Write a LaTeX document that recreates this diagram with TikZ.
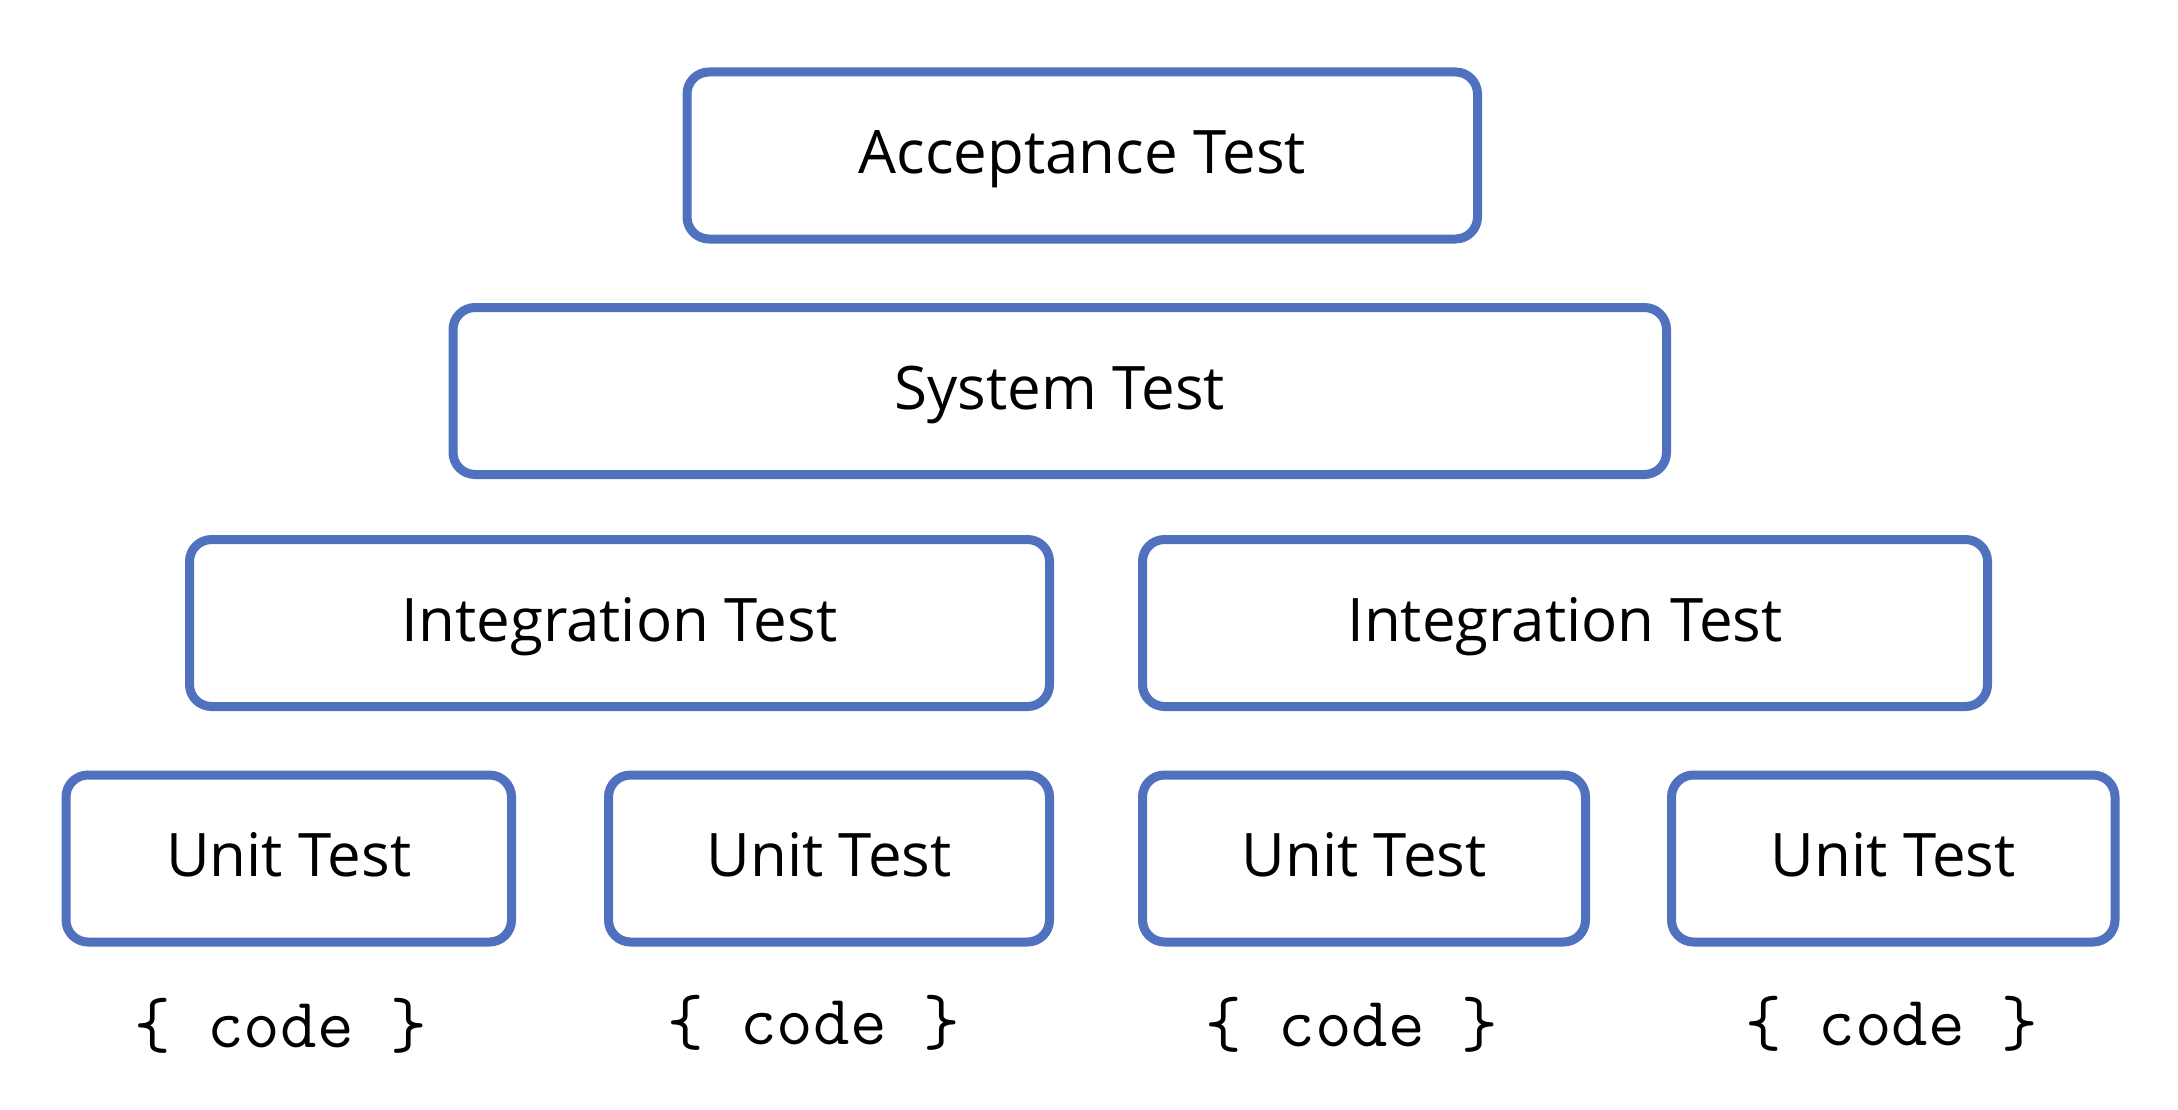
\documentclass[tikz,border=0pt]{standalone}
\usepackage{fontspec}
\setmainfont{Open Sans}
\definecolor{boxblue}{HTML}{4F71BE}
\begin{document}
\begin{tikzpicture}[x=1pt,y=-1pt,
  tbox/.style={draw=boxblue, line width=9pt, rounded corners=22pt, inner sep=0pt,
    minimum height=167pt, text height=44pt, text depth=8pt,
    font=\fontsize{60}{72}\selectfont, text=black},
  codelbl/.style={anchor=base, inner sep=0pt, font=\ttfamily\fontsize{70.9}{80}\selectfont}]
\useasboundingbox[fill=white] (0,0) rectangle (2178,1110);
\node[tbox, minimum width=790.5pt] (acc) at (1082.25,155.5) {Acceptance Test};
\node[tbox, minimum width=1213.5pt] (sys) at (1059.75,391) {System Test};
\node[tbox, minimum width=860pt] (intl) at (619.5,623) {Integration Test};
\node[tbox, minimum width=845pt] (intr) at (1565,623) {Integration Test};
\node[tbox, minimum width=445.5pt] (u1) at (288.75,858.5) {Unit Test};
\node[tbox, minimum width=441pt] (u2) at (829,858.5) {Unit Test};
\node[tbox, minimum width=443pt] (u3) at (1364,858.5) {Unit Test};
\node[tbox, minimum width=443.5pt] (u4) at (1893.25,858.5) {Unit Test};
\node[codelbl] (c1) at (280.5,1047) {\{ code \}};
\node[codelbl] (c2) at (813.5,1044) {\{ code \}};
\node[codelbl] (c3) at (1351.5,1046) {\{ code \}};
\node[codelbl] (c4) at (1891.5,1045) {\{ code \}};
\end{tikzpicture}
\end{document}
